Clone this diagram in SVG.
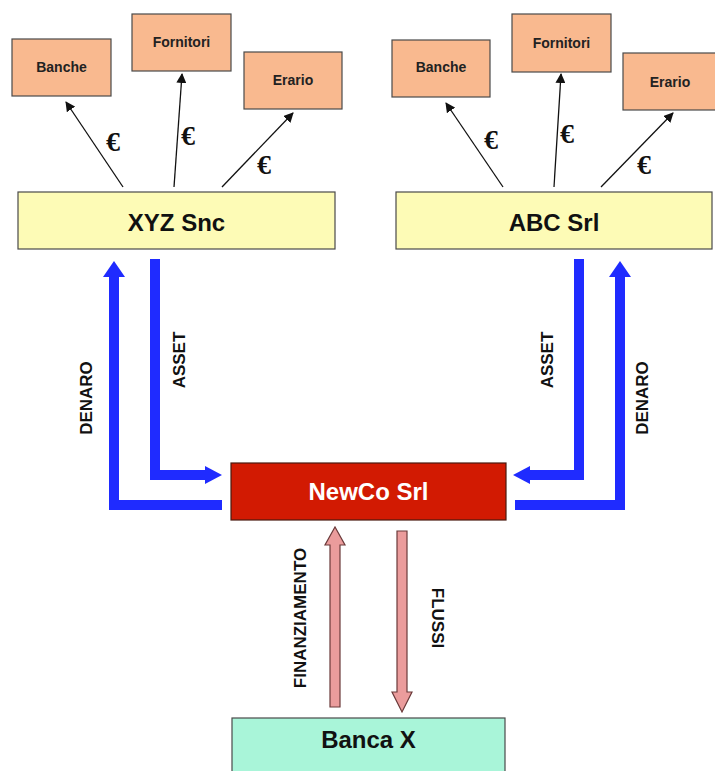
<svg xmlns="http://www.w3.org/2000/svg" width="715" height="771" viewBox="0 0 715 771">
<style>
.sm{fill:#f9b98f;stroke:#4a4a4a;stroke-width:1.2}
.yl{fill:#fdfbb6;stroke:#4a4a4a;stroke-width:1.2}
.st{font-family:"Liberation Sans",Arial,sans-serif;font-weight:bold;font-size:14px;fill:#222;text-anchor:middle}
.bt{font-family:"Liberation Sans",Arial,sans-serif;font-weight:bold;font-size:24px;fill:#111;text-anchor:middle}
.lb{font-family:"Liberation Sans",Arial,sans-serif;font-weight:bold;font-size:17px;fill:#111;text-anchor:middle}
.eu{font-family:"Liberation Serif","Times New Roman",serif;font-weight:bold;font-size:28px;fill:#111;text-anchor:middle}
.thin{stroke:#111;stroke-width:1.3;fill:none;marker-end:url(#ah)}
.blue{stroke:#1f2bff;stroke-width:10;fill:none;stroke-linejoin:miter}
.bh{fill:#1f2bff}
.pk{fill:#eb9c9c;stroke:#6b3a3a;stroke-width:1.2}
</style>
<defs>
<marker id="ah" viewBox="0 0 10 10" refX="9" refY="5" markerWidth="10" markerHeight="10" markerUnits="userSpaceOnUse" orient="auto">
<path d="M0,0 L10,5 L0,10 z" fill="#111"/>
</marker>
</defs>
<rect width="715" height="771" fill="#ffffff"/>

<g id="xyz-banche"><rect class="sm" x="12" y="39" width="99" height="57"/><text class="st" x="61.5" y="72">Banche</text></g>
<g id="xyz-fornitori"><rect class="sm" x="132" y="14" width="99" height="57"/><text class="st" x="181.5" y="47">Fornitori</text></g>
<g id="xyz-erario"><rect class="sm" x="244" y="52" width="98" height="57"/><text class="st" x="293" y="85">Erario</text></g>
<g id="xyz"><rect class="yl" x="18" y="192" width="317" height="57"/><text class="bt" x="176.5" y="231">XYZ Snc</text></g>

<g id="abc-banche"><rect class="sm" x="392" y="40" width="98" height="57"/><text class="st" x="441" y="72">Banche</text></g>
<g id="abc-fornitori"><rect class="sm" x="512" y="14" width="99" height="58"/><text class="st" x="561.5" y="48">Fornitori</text></g>
<g id="abc-erario"><rect class="sm" x="623" y="53" width="95" height="57"/><text class="st" x="670" y="87">Erario</text></g>
<g id="abc"><rect class="yl" x="396" y="192" width="316" height="57"/><text class="bt" x="554" y="231">ABC Srl</text></g>

<g id="newco"><rect x="231" y="463" width="275" height="57" fill="#d21a02" stroke="#4a1a10" stroke-width="1.2"/><text class="bt" x="368.5" y="500" style="fill:#ffffff">NewCo Srl</text></g>
<g id="banca"><rect x="232" y="718" width="273" height="60" fill="#a9f5d9" stroke="#4a4a4a" stroke-width="1.2"/><text class="bt" x="368.5" y="748">Banca X</text></g>

<g id="connectors">
<line class="thin" x1="123" y1="187" x2="66" y2="102"/>
<line class="thin" x1="174" y1="187" x2="182" y2="74"/>
<line class="thin" x1="222" y1="187" x2="293" y2="113"/>
<line class="thin" x1="503" y1="187" x2="446" y2="103"/>
<line class="thin" x1="554" y1="187" x2="561" y2="74"/>
<line class="thin" x1="601" y1="187" x2="673" y2="113"/>
<text class="eu" x="113" y="151">€</text>
<text class="eu" x="188" y="145">€</text>
<text class="eu" x="264" y="174">€</text>
<text class="eu" x="491" y="149">€</text>
<text class="eu" x="567" y="143">€</text>
<text class="eu" x="644" y="174">€</text>

<path class="blue" d="M222,505 H114 V276"/>
<polygon class="bh" points="103,277 125,277 114,261"/>
<path class="blue" d="M155,259 V475 H206"/>
<polygon class="bh" points="205,466 205,484 222,475"/>
<path class="blue" d="M579,259 V475 H529"/>
<polygon class="bh" points="530,466 530,484 513,475"/>
<path class="blue" d="M515,505 H620 V276"/>
<polygon class="bh" points="609,277 631,277 620,261"/>
<text class="lb" transform="translate(86,398) rotate(-90)" dy="6">DENARO</text>
<text class="lb" transform="translate(179,360) rotate(-90)" dy="6">ASSET</text>
<text class="lb" transform="translate(547,360) rotate(-90)" dy="6">ASSET</text>
<text class="lb" transform="translate(642,398) rotate(-90)" dy="6">DENARO</text>

<polygon class="pk" points="330,707 340,707 340,545 345,545 335,527 325,545 330,545"/>
<polygon class="pk" points="397,531 407,531 407,692 412,692 402,712 392,692 397,692"/>
<text class="lb" transform="translate(300,618) rotate(-90)" dy="6">FINANZIAMENTO</text>
<text class="lb" transform="translate(438,618) rotate(90)" dy="6">FLUSSI</text>
</g>
</svg>
